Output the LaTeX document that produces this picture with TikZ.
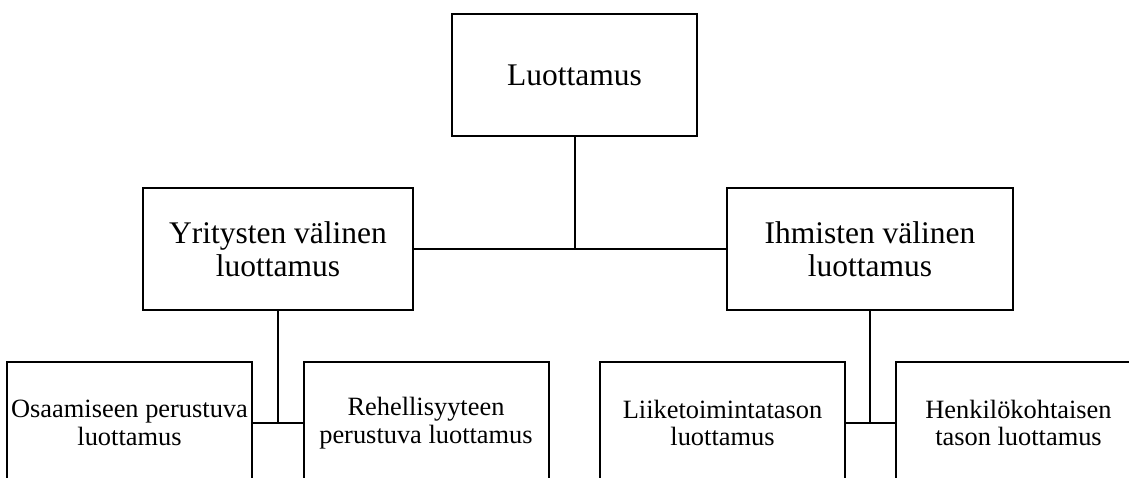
\documentclass[tikz,border=0pt]{standalone}
\usepackage{fontspec}
\setmainfont{Liberation Serif}
\begin{document}
\begin{tikzpicture}[x=1pt, y=-1pt, line width=2pt,
    laatikko/.style={draw, minimum height=122pt, inner sep=0pt, align=center},
    iso/.style={font=\fontsize{31.5}{33}\selectfont},
    pieni/.style={font=\fontsize{26.4}{27.5}\selectfont}]
    \useasboundingbox (0,0) rectangle (1129,477);
    \clip (0,0) rectangle (1129,477);
    % Ylin taso
    \node[laatikko, iso, minimum width=245pt] (luottamus) at (574.5,75) {Luottamus};
    % Toinen taso
    \node[laatikko, iso, minimum width=270pt] (yritys) at (278,249) {Yritysten välinen\\luottamus};
    \node[laatikko, iso, minimum width=286pt] (ihmiset) at (870,249) {Ihmisten välinen\\luottamus};
    % Alin taso
    \node[laatikko, pieni, minimum width=245pt] (osaaminen) at (129.5,423) {Osaamiseen perustuva\\luottamus};
    \node[laatikko, pieni, minimum width=245pt] (rehellisyys) at (426,423) {Rehellisyyteen\\perustuva luottamus};
    \node[laatikko, pieni, minimum width=245pt] (liiketoiminta) at (722.5,423) {Liiketoimintatason\\luottamus};
    \node[laatikko, pieni, minimum width=245pt] (henkilo) at (1018.5,423) {Henkilökohtaisen\\tason luottamus};
    % Yhdysviivat
    \coordinate (ylahaara) at (luottamus.south |- yritys.east);
    \coordinate (vasenhaara) at (yritys.south |- osaaminen.east);
    \coordinate (oikeahaara) at (ihmiset.south |- liiketoiminta.east);
    \draw (luottamus.south) -- (ylahaara);
    \draw (yritys.east) -- (ihmiset.west);
    \draw (yritys.south) -- (vasenhaara);
    \draw (osaaminen.east) -- (rehellisyys.west);
    \draw (ihmiset.south) -- (oikeahaara);
    \draw (liiketoiminta.east) -- (henkilo.west);
\end{tikzpicture}
\end{document}
